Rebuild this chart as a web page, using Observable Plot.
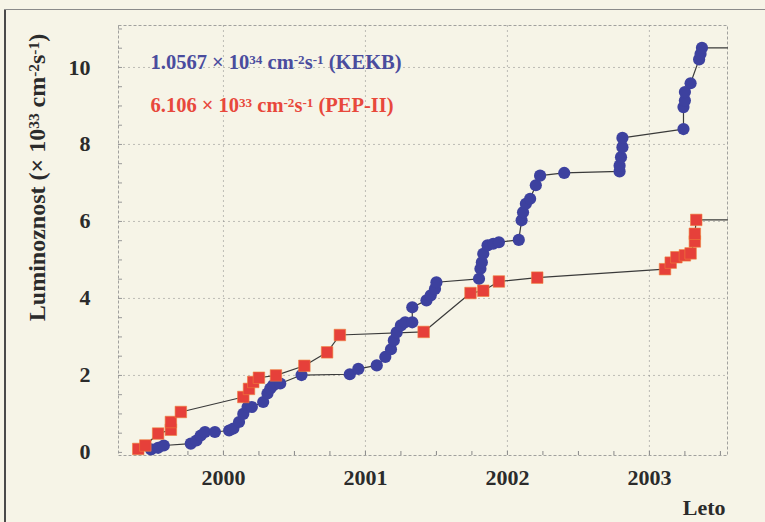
<!DOCTYPE html>
<html>
<head>
<meta charset="utf-8">
<script src="https://cdn.jsdelivr.net/npm/d3@7"></script>
<script src="https://cdn.jsdelivr.net/npm/@observablehq/plot@0.6"></script>
<style>
  html, body { margin: 0; padding: 0; background: #f6f4e7; }
  #wrap { position: relative; width: 765px; height: 522px; overflow: hidden; background: #f6f4e7; }
  #edgeL { position: absolute; left: 4px; top: 9px; width: 2px; height: 513px; background: #4a4a4a; }
  #edgeT { position: absolute; left: 4px; top: 9px; width: 761px; height: 1px; background: #8a8a8a; }
  #chart { position: absolute; left: 0; top: 0; }
</style>
</head>
<body>
<div id="wrap"><div id="edgeL"></div><div id="edgeT"></div><div id="chart"></div></div>
<script>
// ---- data ----
const kekbYear = [1999.49,1999.54,1999.58,1999.77,1999.81,1999.84,1999.87,1999.94,2000.04,2000.07,2000.11,2000.14,2000.17,2000.20,2000.28,2000.31,2000.33,2000.35,2000.40,2000.55,2000.89,2000.95,2001.08,2001.14,2001.18,2001.20,2001.22,2001.25,2001.28,2001.33,2001.33,2001.43,2001.46,2001.49,2001.50,2001.80,2001.81,2001.82,2001.83,2001.86,2001.90,2001.94,2002.08,2002.10,2002.11,2002.13,2002.16,2002.20,2002.23,2002.40,2002.79,2002.79,2002.80,2002.81,2002.81,2003.24,2003.24,2003.25,2003.25,2003.29,2003.35,2003.36,2003.37];
const kekbLum  = [0.08,0.12,0.18,0.23,0.31,0.44,0.53,0.53,0.57,0.62,0.79,1.00,1.18,1.18,1.31,1.53,1.66,1.74,1.79,2.01,2.03,2.17,2.26,2.48,2.68,2.91,3.12,3.30,3.38,3.38,3.77,3.95,4.08,4.25,4.42,4.51,4.77,4.94,5.16,5.38,5.42,5.46,5.52,6.03,6.24,6.46,6.59,6.94,7.19,7.26,7.30,7.45,7.67,7.93,8.17,8.40,8.97,9.14,9.36,9.59,10.21,10.35,10.51];

const pepYear = [1999.40,1999.45,1999.54,1999.63,1999.63,1999.70,2000.14,2000.18,2000.21,2000.25,2000.37,2000.57,2000.73,2000.82,2001.41,2001.74,2001.83,2001.94,2002.21,2003.11,2003.15,2003.19,2003.25,2003.29,2003.32,2003.32,2003.33];
const pepLum  = [0.09,0.18,0.49,0.59,0.79,1.05,1.44,1.65,1.83,1.94,2.00,2.25,2.60,3.05,3.13,4.14,4.20,4.44,4.54,4.76,4.93,5.07,5.12,5.17,5.48,5.68,6.04];

const yearTicks = [2000, 2001, 2002, 2003];
const lumTicks = [0, 2, 4, 6, 8, 10];
const xDomain = [1999.261, 2003.55];
const yDomain = [-0.08, 11.09];

const kekbLabel = "1.0567 × 10^{34} cm^{-2}s^{-1} (KEKB)";
const pepLabel = "6.106 × 10^{33} cm^{-2}s^{-1} (PEP-II)";
const yTitle = "Luminoznost (× 10^{33} cm^{-2}s^{-1})";
const xTitle = "Leto";

// ---- build ----
const kekb = kekbYear.map((x, i) => ({x, y: kekbLum[i]}));
const pep = pepYear.map((x, i) => ({x, y: pepLum[i]}));
// each curve is continued flat to the right edge of the frame
const kekbLine = [...kekb, {x: xDomain[1], y: kekbLum[kekbLum.length - 1]}];
const pepLine = [...pep, {x: xDomain[1], y: pepLum[pepLum.length - 1]}];
const quarterTicks = d3.range(1999.5, 2003.6, 0.25);
const minorY = d3.range(0, 11.01, 0.5);

const font = "'Liberation Serif', 'Times New Roman', 'DejaVu Serif', serif";

const chart = Plot.plot({
  width: 765,
  height: 522,
  marginLeft: 118,
  marginRight: 38,
  marginTop: 25,
  marginBottom: 67,
  style: {background: "transparent", fontFamily: font, fontWeight: "bold", color: "#2b2b2b"},
  x: {domain: xDomain, label: null},
  y: {domain: yDomain, label: null},
  marks: [
    Plot.gridX(yearTicks, {stroke: "#8c8c8c", strokeOpacity: 0.55, strokeDasharray: "2,3"}),
    Plot.gridY(lumTicks.filter(d => d > 0), {stroke: "#8c8c8c", strokeOpacity: 0.55, strokeDasharray: "2,3"}),
    Plot.frame({stroke: "#8c8c8c", strokeOpacity: 0.8, strokeDasharray: "3,2"}),
    Plot.axisX(quarterTicks, {tickSize: -4, fill: "none", stroke: "#888", label: null}),
    Plot.axisY(minorY, {tickSize: -4, fill: "none", stroke: "#999", label: null}),
    Plot.axisX(yearTicks, {tickSize: 0, tickPadding: 14, fontSize: 22, tickFormat: d => String(d), label: null, fill: "#2b2b2b"}),
    Plot.axisY(lumTicks, {tickSize: 0, tickPadding: 28, fontSize: 22, label: null, fill: "#2b2b2b"}),
    Plot.line(kekbLine, {x: "x", y: "y", stroke: "#3a3a3a", strokeWidth: 1.2}),
    Plot.line(pepLine, {x: "x", y: "y", stroke: "#3a3a3a", strokeWidth: 1.2}),
    Plot.dot(kekb, {x: "x", y: "y", r: 6.1, fill: "#3d419f", symbol: "circle"}),
    Plot.dot(pep, {x: "x", y: "y", r: 6.5, fill: "#e6403a", stroke: "#f0803a", strokeWidth: 0.6, symbol: "square"}),
    Plot.text([kekbLabel], {frameAnchor: "top-left", dx: 32, dy: 37, text: d => d, textAnchor: "start", lineAnchor: "middle", fontSize: 20.5, fill: "#4a4c9e"}),
    Plot.text([pepLabel], {frameAnchor: "top-left", dx: 32, dy: 80, text: d => d, textAnchor: "start", lineAnchor: "middle", fontSize: 20.5, fill: "#e8483c"}),
    Plot.text([yTitle], {frameAnchor: "left", dx: -81, dy: -63, rotate: -90, text: d => d, textAnchor: "middle", lineAnchor: "middle", fontSize: 24, fill: "#2b2b2b"}),
    Plot.text([xTitle], {frameAnchor: "bottom-right", dx: -2, dy: 52, text: d => d, textAnchor: "end", lineAnchor: "middle", fontSize: 22, fill: "#2b2b2b"})
  ]
});

// turn ^{...} markup into raised tspans
chart.querySelectorAll("text").forEach(t => {
  const s = t.textContent;
  if (!s.includes("^{")) return;
  while (t.firstChild) t.removeChild(t.firstChild);
  const ns = "http://www.w3.org/2000/svg";
  const re = /\^\{([^}]*)\}/g;
  let last = 0, m;
  const add = (str, sup) => {
    const ts = document.createElementNS(ns, "tspan");
    ts.textContent = str;
    if (sup) { ts.setAttribute("baseline-shift", "40%"); ts.setAttribute("font-size", "64%"); }
    t.appendChild(ts);
  };
  while ((m = re.exec(s))) {
    if (m.index > last) add(s.slice(last, m.index), false);
    add(m[1], true);
    last = re.lastIndex;
  }
  if (last < s.length) add(s.slice(last), false);
});

document.getElementById("chart").appendChild(chart);
</script>
</body>
</html>
